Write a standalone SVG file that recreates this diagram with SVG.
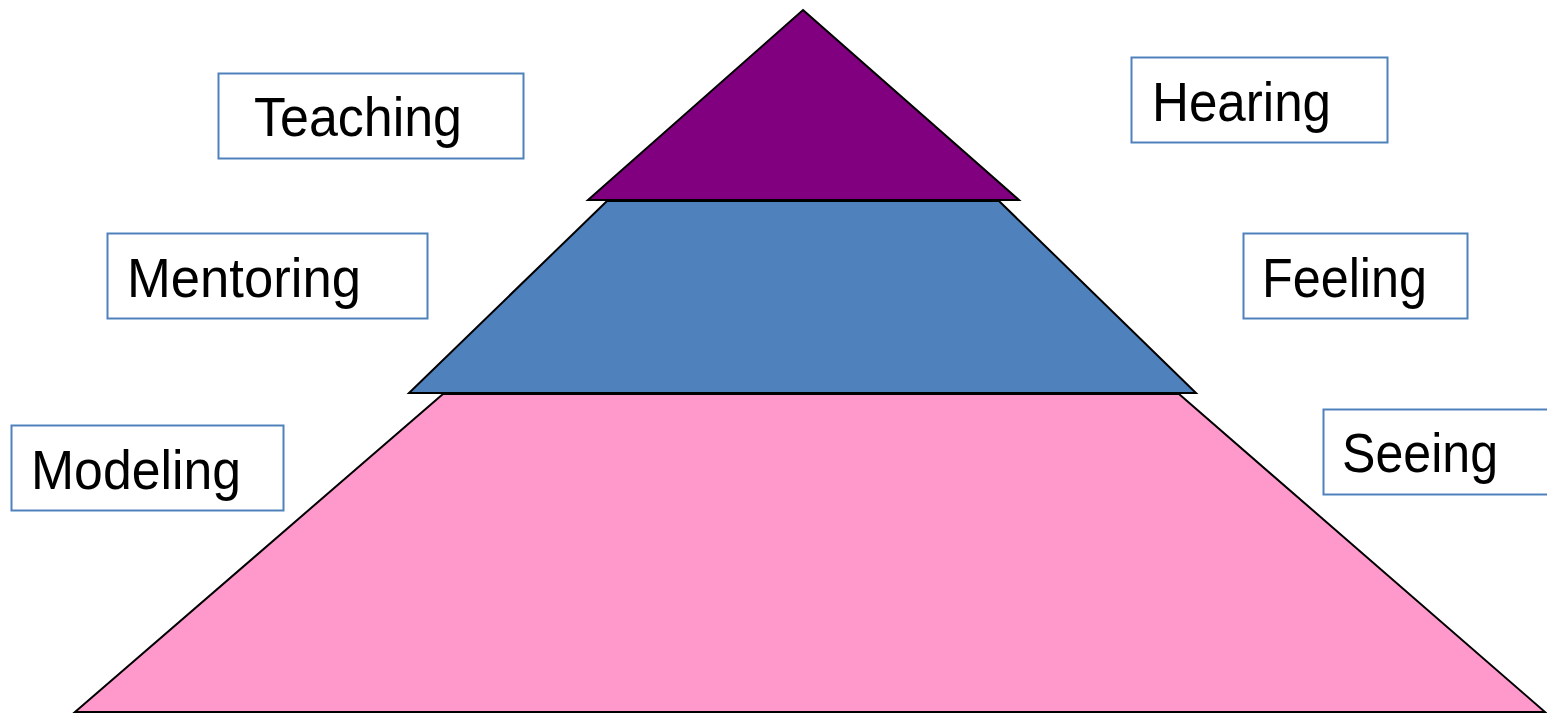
<svg xmlns="http://www.w3.org/2000/svg" width="1547" height="713" viewBox="0 0 1547 713">
<style>
.layer{stroke:#000;stroke-width:2;stroke-linejoin:miter}
.box{fill:#fff;stroke:#4f81bd;stroke-width:2}
.lbl{font-family:"Liberation Sans","DejaVu Sans",sans-serif;font-size:56px;fill:#000}
</style>
<rect width="1547" height="713" fill="#fff"/>
<g id="pyramid">
<g id="base"><polygon class="layer" fill="#ff99cc" points="443,394 1179,394 1545,712 75,712"/></g>
<g id="middle"><polygon class="layer" fill="#4f81bd" points="607,201 999,201 1196,393 409,393"/></g>
<g id="top"><polygon class="layer" fill="#800080" points="803,10 1019,200 588,200"/></g>
</g>
<g id="connectors"></g>
<g id="teaching"><rect class="box" x="218.5" y="73.5" width="305" height="85"/><text class="lbl" x="254" y="136" textLength="208" lengthAdjust="spacingAndGlyphs">Teaching</text></g>
<g id="mentoring"><rect class="box" x="107.5" y="233.5" width="320" height="85"/><text class="lbl" x="127" y="297" textLength="234" lengthAdjust="spacingAndGlyphs">Mentoring</text></g>
<g id="modeling"><rect class="box" x="11.5" y="425.5" width="272" height="85"/><text class="lbl" x="31" y="489" textLength="210" lengthAdjust="spacingAndGlyphs">Modeling</text></g>
<g id="hearing"><rect class="box" x="1131.5" y="57.5" width="256" height="85"/><text class="lbl" x="1152" y="121" textLength="179" lengthAdjust="spacingAndGlyphs">Hearing</text></g>
<g id="feeling"><rect class="box" x="1243.5" y="233.5" width="224" height="85"/><text class="lbl" x="1262" y="297" textLength="165" lengthAdjust="spacingAndGlyphs">Feeling</text></g>
<g id="seeing"><rect class="box" x="1323.5" y="409.5" width="230" height="85"/><text class="lbl" x="1342" y="472" textLength="156" lengthAdjust="spacingAndGlyphs">Seeing</text></g>
</svg>
